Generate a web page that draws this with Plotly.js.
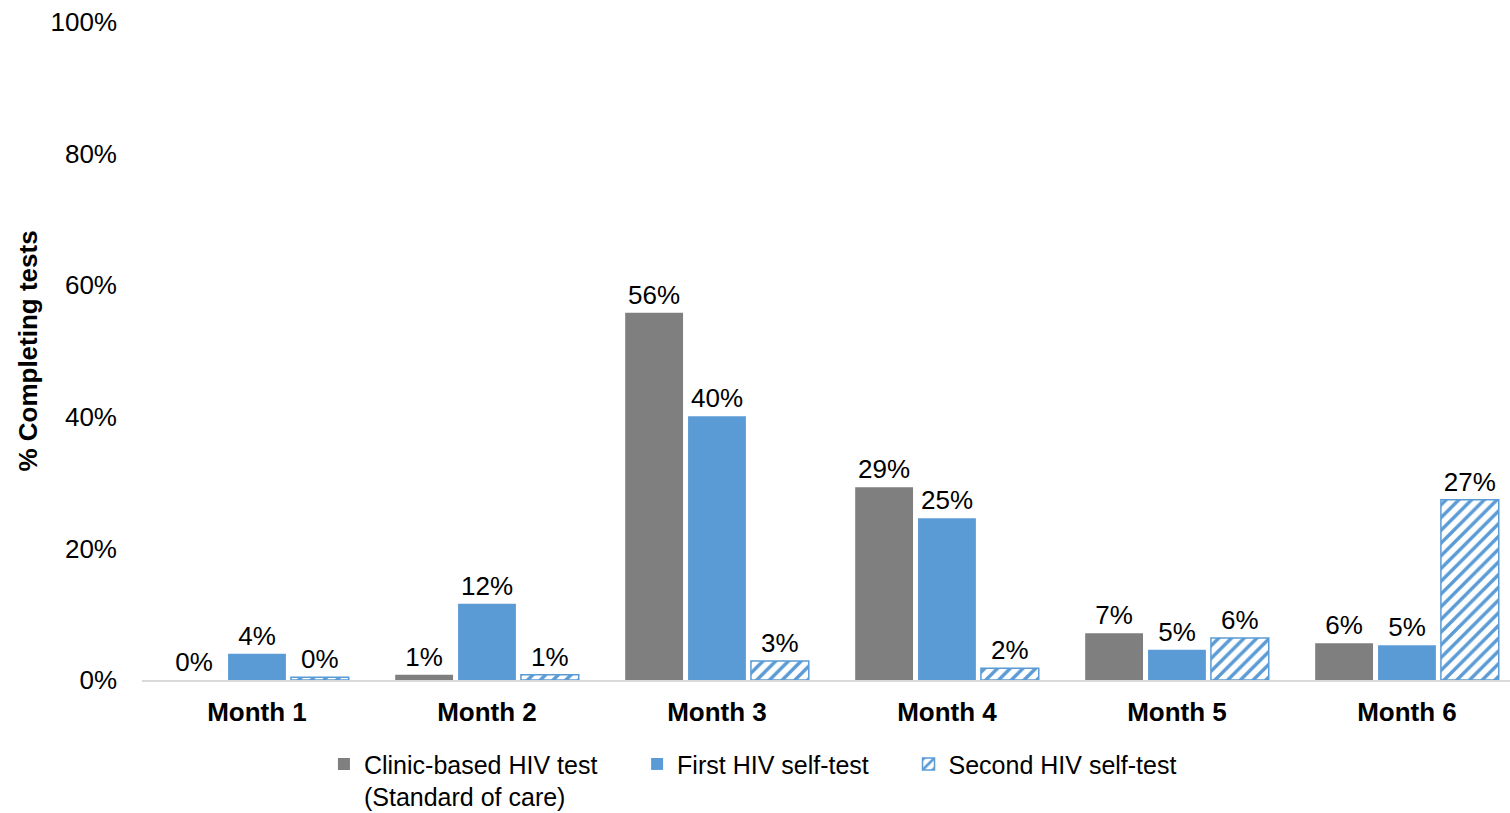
<!DOCTYPE html>
<html>
<head>
<meta charset="utf-8">
<script src="https://cdn.plot.ly/plotly-3.0.1.min.js"></script>
<style>html,body{margin:0;padding:0;background:#fff;}#chart{width:1510px;height:813px;}</style>
</head>
<body>
<div id="chart"></div>
<script>
var months = ["Month 1", "Month 2", "Month 3", "Month 4", "Month 5", "Month 6"];
var clinicVals = [0, 0.8, 55.8, 29.3, 7.1, 5.6];
var firstVals = [4.0, 11.6, 40.1, 24.6, 4.6, 5.3];
var secondVals = [0.4, 0.8, 2.9, 1.8, 6.4, 27.4];
var yTicks = [0, 20, 40, 60, 80, 100];
var yTickLabels = ["0%", "20%", "40%", "60%", "80%", "100%"];
var seriesNames = [
  "Clinic-based HIV test\u00a0\u00a0\u00a0\u00a0\u00a0<br>(Standard of care)",
  "First HIV self-test\u00a0\u00a0\u00a0\u00a0\u00a0",
  "Second HIV self-test"
];

var font = "Liberation Sans, Arial, sans-serif";
var lblFont = {family: font, size: 26, color: "#000"};

var traces = [
  {
    type: "bar", name: seriesNames[0],
    x: months, y: clinicVals,
    marker: {color: "#7F7F7F"},
    texttemplate: "%{y:.0f}%", textposition: "outside", textfont: lblFont,
    cliponaxis: false, hoverinfo: "none"
  },
  {
    type: "bar", name: seriesNames[1],
    x: months, y: firstVals,
    marker: {color: "#5B9BD5"},
    texttemplate: "%{y:.0f}%", textposition: "outside", textfont: lblFont,
    cliponaxis: false, hoverinfo: "none"
  },
  {
    type: "bar", name: seriesNames[2],
    x: months, y: secondVals,
    marker: {
      color: "#ffffff",
      line: {color: "#5B9BD5", width: 1.5},
      pattern: {shape: "/", fgcolor: "#5B9BD5", bgcolor: "#ffffff", size: 9, solidity: 0.38}
    },
    texttemplate: "%{y:.0f}%", textposition: "outside", textfont: lblFont,
    cliponaxis: false, hoverinfo: "none"
  }
];

var layout = {
  width: 1510, height: 813,
  margin: {l: 142, r: 0, t: 22, b: 133, autoexpand: false},
  paper_bgcolor: "#fff", plot_bgcolor: "#fff",
  barmode: "group", bargap: 0.18, bargroupgap: 0.08,
  showlegend: true,
  legend: {
    orientation: "h", x: 0.133, xanchor: "left", y: -0.093, yanchor: "top",
    font: {family: font, size: 25, color: "#000"}, valign: "top",
    itemwidth: 30, tracegroupgap: 0
  },
  xaxis: {
    range: [-0.5, 5.448], showgrid: false, zeroline: false,
    showline: true, linecolor: "#D9D9D9", linewidth: 1.5,
    ticks: "", tickfont: {family: font, size: 26, color: "#000", weight: "bold"},
    ticklabelstandoff: 8,
    fixedrange: true
  },
  yaxis: {
    range: [0, 100], tickvals: yTicks, ticktext: yTickLabels,
    showgrid: false, zeroline: false, showline: false, ticks: "",
    tickfont: {family: font, size: 26, color: "#000"},
    ticklabelstandoff: 24,
    title: {text: "<b>% Completing tests</b>", font: {family: font, size: 26, color: "#000"}, standoff: 5},
    fixedrange: true
  }
};

Plotly.newPlot("chart", traces, layout, {displayModeBar: false, staticPlot: true});
</script>
</body>
</html>
